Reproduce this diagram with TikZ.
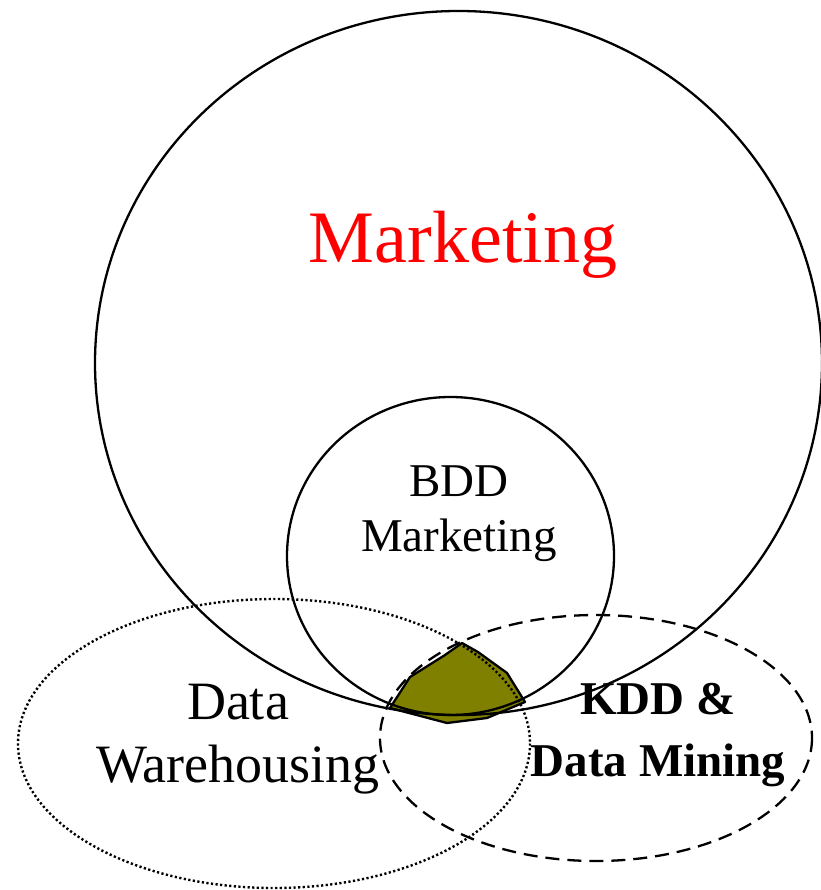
\documentclass[tikz,border=0pt]{standalone}
\usepackage{fontspec}
\setmainfont{Liberation Serif}
\definecolor{kddolive}{RGB}{128,128,0}
\definecolor{mktred}{RGB}{255,0,0}
\begin{document}
\begin{tikzpicture}[x=1pt,y=-1pt,
  solidring/.style={draw=black, line width=2.3pt},
  dottedring/.style={draw=black, line width=2.4pt, dash pattern=on 2.2pt off 2.4pt},
  dashedring/.style={draw=black, line width=2.3pt, dash pattern=on 14pt off 8pt},
  label/.style={inner sep=0pt, align=center, text=black}]
\useasboundingbox (0,0) rectangle (820,890);
% shaded core where all four areas meet
\draw[fill=kddolive, line width=2.3pt, line join=round]
  (390,708) -- (410,677) -- (445,655) -- (462,643) -- (478,652)
  -- (507,673) -- (525,702) -- (487,718) -- (447,723) -- cycle;
% marketing and its big-data-driven subset
\draw[solidring] (458.5,363) ellipse [x radius=363.5, y radius=352];
\draw[solidring] (450.5,556) ellipse [x radius=163.5, y radius=159];
% data warehousing (dotted) and KDD (dashed)
\draw[dottedring] (274,743.5) ellipse [x radius=256, y radius=144.5];
\draw[dashedring] (596,738) ellipse [x radius=216, y radius=123];
% labels
\node[label, anchor=base, text=mktred, font=\fontsize{74}{88}\selectfont] (mkt) at (463,262) {Marketing};
\node[label, font=\fontsize{47}{55}\selectfont] (bdd) at (459,514) {BDD\\Marketing};
\node[label, font=\fontsize{54}{63}\selectfont] (dw) at (238,739) {Data\\Warehousing};
\node[label, font=\bfseries\fontsize{47}{62}\selectfont] (kdd) at (658,735) {KDD \&\\Data Mining};
\end{tikzpicture}
\end{document}
